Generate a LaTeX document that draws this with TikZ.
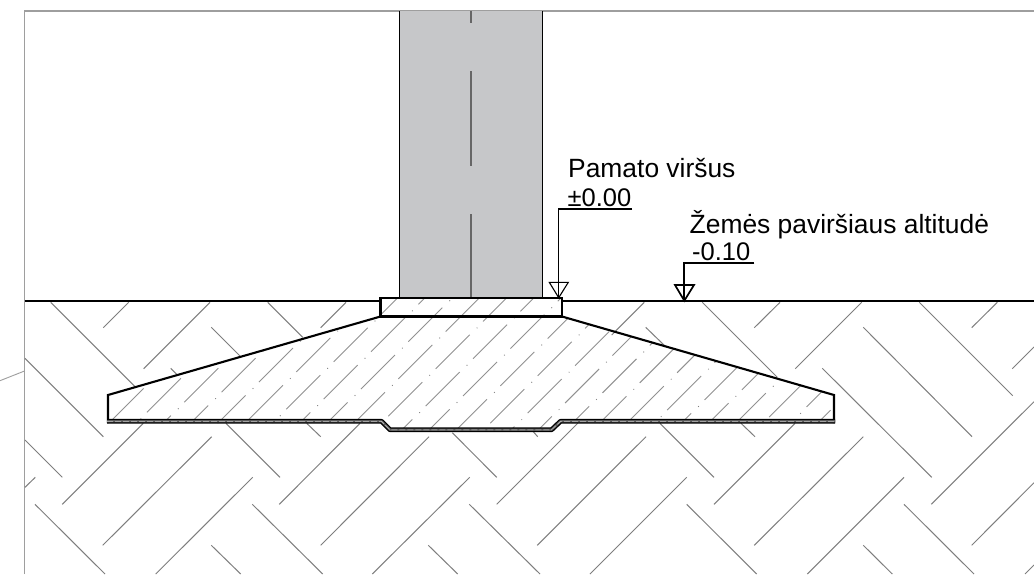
\documentclass[tikz,border=0pt]{standalone}
\usepackage{fontspec}
\setmainfont{Liberation Sans}
\definecolor{wallgrey}{HTML}{C6C7C9}
\definecolor{hatchgrey}{HTML}{7E7E7E}
\tikzset{
  earth/.style={draw=hatchgrey,line width=1pt},
  conc/.style={draw=hatchgrey!85,line width=0.9pt},
  heavy/.style={draw=black,line width=2.1pt,line join=miter},
  frameline/.style={draw=black!38,line width=1.1pt},
  lbl/.style={anchor=base west,inner sep=0pt,font=\fontsize{26.4}{28}\selectfont},
  num/.style={anchor=base west,inner sep=0pt,font=\fontsize{25.5}{28}\selectfont},
}
\begin{document}
\begin{tikzpicture}[x=1pt,y=-1pt]
\useasboundingbox (0,0) rectangle (1034,574);
\fill[white] (0,0) rectangle (1034,574);
% frame
\draw[frameline] (24.5,574) -- (24.5,11) -- (1034,11);
\draw[frameline,line width=0.9pt] (0,380.7) -- (24.5,371);
% wall
\fill[wallgrey] (399.5,11) rectangle (542.5,298);
\draw[black,line width=1.2pt] (399.5,11) -- (399.5,298) (542.5,11) -- (542.5,298);
\draw[black!60,line width=1.5pt] (471,11) -- (471,23) (471,71) -- (471,166) (471,214) -- (471,298);
% earth hatch
\foreach \a/\b/\c/\d in {
 50.7/302.3/135/386.7, 25/358.3/103.3/436.7, 25/440/62.3/477.3, 35/504.3/105/574,
 211.3/327.3/240/356, 170.7/368.3/176.7/374.3, 267.7/302.3/302.7/337.3,
 226/423.3/280/477.3, 306.7/423.3/320.7/436.7, 252.3/504.3/322.7/574, 211.3/545.3/240.7/574,
 645.7/327.3/665/346, 452.3/432.7/496.7/477.3, 533.3/431.7/537.7/436.7,
 660/423.3/714/477.3, 469.3/504.3/540/574, 428.3/545.3/457.7/574, 686.7/504.3/756.7/574,
 702.3/302.3/777.3/377.3, 863.3/327.3/972/436.7, 822.3/368.3/931.7/477.3,
 919.3/302.3/1012.7/395.7, 741/423.3/755/436.7, 863.3/545.3/892.3/574, 904/504.3/974/574,
 103.3/327.7/128.7/302.3, 143.7/368.7/210/302.3, 320.7/327.7/346/302.3,
 62.3/504.3/143.3/423.3, 102.7/545.3/211.7/436.7, 155.7/574/252.7/477.3, 25/487.3/35.3/477.3,
 279.3/504.3/360/423.3, 320.7/545.3/429/436.7, 372.3/574/469.7/477.3, 496.7/504.3/577.7/423.3,
 537.3/545.3/646/436.7, 590/574/686.7/477.3, 611.7/335/644.3/302.3,
 754.3/327.7/780/302.3, 795.3/368.7/861.7/302.3, 971.7/327.7/997.3/302.3, 1012.3/368.7/1034/347,
 714/504.3/795/423.3, 754.3/545.3/863.3/436.7, 807.3/574/904/477.3, 931.3/504.3/1034/401.7,
 971.7/545.3/1034/482.7, 1025/574/1034/565}
 {\draw[earth] (\a,\b) -- (\c,\d);}
% concrete hatch
\begin{scope}
\clip (380.5,298) -- (562,298) -- (562,316.5) -- (834,395) -- (834,423) -- (561,423) -- (552,431) -- (390,431) -- (381,423) -- (108,423) -- (108,395) -- (380.5,316.5) -- cycle;
\foreach \i in {-10,...,14}{
  \foreach \j in {-3,...,6}{
    \pgfmathsetmacro{\px}{371+37.35*\i-10*\j}
    \pgfmathsetmacro{\py}{351.7-10.1*\i+37.3*\j}
    \draw[conc] (\px,\py) -- ++(34,-34);
    \fill[hatchgrey] (\px-6,\py+6.5) circle (0.6pt);
  }
}
\end{scope}
% outlines
\draw[heavy] (380.5,316.5) -- (108,395) -- (108,423);
\draw[heavy] (562,316.5) -- (834,395) -- (834,423);
\draw[heavy] (380.5,298) rectangle (562,316.5);
\draw[heavy,line width=2.7pt] (24.5,301) -- (380.5,301) (562,301) -- (1034,301);
% membrane
\draw[black,line width=4.8pt,line join=round] (107,421.3) -- (381.5,421.3) -- (390,429.8) -- (551.5,429.8) -- (560.5,421.3) -- (835,421.3);
\draw[black!65,line width=2.2pt,line join=round] (107,421.3) -- (381.5,421.3) -- (390,429.8) -- (551.5,429.8) -- (560.5,421.3) -- (835,421.3);
\draw[white!80!black,line width=0.5pt,dash pattern=on 6pt off 2pt] (107,421.3) -- (381.5,421.3) -- (390,429.8) -- (551.5,429.8) -- (560.5,421.3) -- (835,421.3);
% level marks
\draw[black,line width=1.1pt,line join=miter] (632,209) -- (558.6,209) -- (558.6,297.7);
\draw[black,line width=1.1pt,line join=miter] (549.3,282.3) -- (568.3,282.3) -- (558.7,297.7) -- cycle;
\draw[black,line width=1.7pt,line join=miter] (754.3,262.7) -- (684.2,262.7) -- (684.2,300.7);
\draw[black,line width=1.7pt,line join=miter] (675,285) -- (694,285) -- (684.3,300.7) -- cycle;
% text
\node[lbl] (t1) at (568,177.3) {Pamato viršus};
\node[num] (t2) at (567.5,206.6) {±0.00};
\node[lbl] (t3) at (689.5,233) {Žemės paviršiaus altitudė};
\node[num] (t4) at (692,260.8) {-0.10};
\end{tikzpicture}
\end{document}
